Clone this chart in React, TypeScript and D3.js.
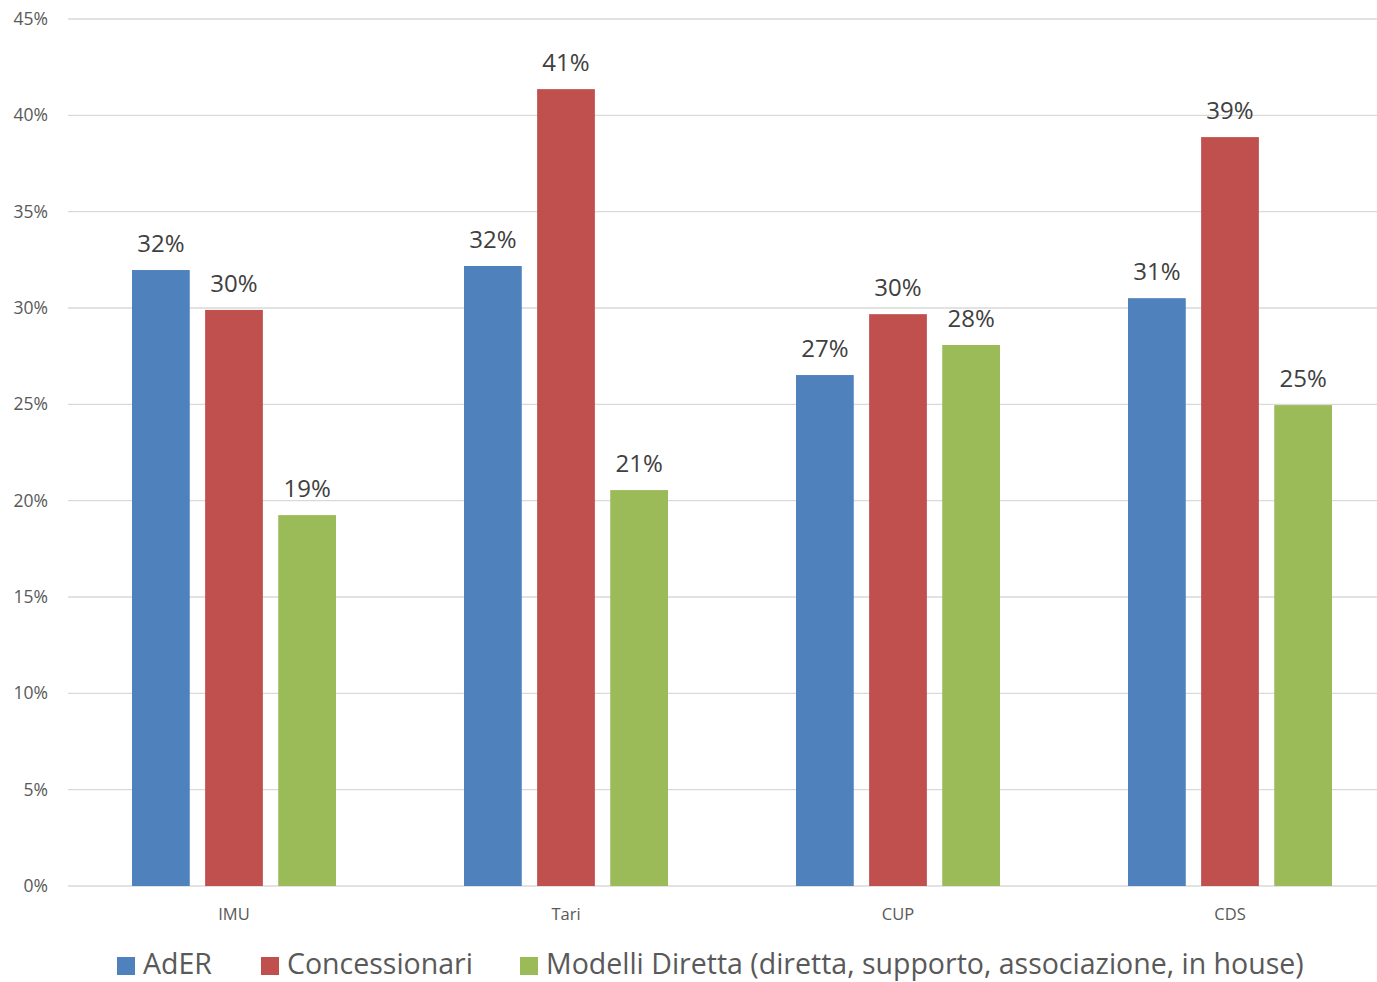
import React from "react";
import * as d3 from "d3";

const categories = ["IMU", "Tari", "CUP", "CDS"];
const seriesNames = ["AdER", "Concessionari", "Modelli Diretta (diretta, supporto, associazione, in house)"];
const seriesColors = ["#4F81BD", "#C0504D", "#9BBB59"];
const adER = [0.3197, 0.3218, 0.2652, 0.3051];
const concessionari = [0.299, 0.4136, 0.2968, 0.3887];
const modelliDiretta = [0.1925, 0.2055, 0.2808, 0.2496];
const yTicks = [0, 0.05, 0.1, 0.15, 0.2, 0.25, 0.3, 0.35, 0.4, 0.45];

const W = 1377;
const H = 982;
const FONT = "'Open Sans', sans-serif";

export default function App() {
  const series = [adER, concessionari, modelliDiretta];
  const y = d3.scaleLinear().domain([0, 0.45]).range([886, 19]);
  const x0 = d3.scaleBand<string>().domain(categories).range([68, 1396]).paddingInner(0.3855).paddingOuter(0.3855 / 2);
  const x1 = d3.scaleBand<string>().domain(seriesNames).range([0, x0.bandwidth()]).paddingInner(0.21).paddingOuter(0);
  const pct = d3.format(".0%");
  const legendX = [117, 261, 520];

  return (
    <svg width={W} height={H} style={{ position: "absolute", left: 0, top: 0, background: "#fff" }} fontFamily={FONT}>
      {yTicks.map((t) => (
        <g key={t}>
          <line x1={68} x2={W} y1={y(t)} y2={y(t)} stroke="#d9d9d9" strokeWidth={1.3} />
          <text x={48} y={y(t) + 6} textAnchor="end" fontSize={17.5} fill="#595959">
            {pct(t)}
          </text>
        </g>
      ))}
      {categories.map((c, i) => (
        <g key={c}>
          {series.map((s, j) => {
            const bx = (x0(c) as number) + (x1(seriesNames[j]) as number);
            const bw = x1.bandwidth();
            return (
              <g key={j}>
                <rect x={bx} y={y(s[i])} width={bw} height={y(0) - y(s[i])} fill={seriesColors[j]} />
                <text x={bx + bw / 2} y={y(s[i]) - 18} textAnchor="middle" fontSize={24} fill="#404040">
                  {pct(s[i])}
                </text>
              </g>
            );
          })}
          <text x={(x0(c) as number) + x0.bandwidth() / 2} y={920} textAnchor="middle" fontSize={16.5} fill="#595959">
            {c}
          </text>
        </g>
      ))}
      {seriesNames.map((n, j) => (
        <g key={n}>
          <rect x={legendX[j]} y={957} width={18} height={18} fill={seriesColors[j]} />
          <text x={legendX[j] + 26} y={974} fontSize={28.5} fill="#595959">
            {n}
          </text>
        </g>
      ))}
    </svg>
  );
}
